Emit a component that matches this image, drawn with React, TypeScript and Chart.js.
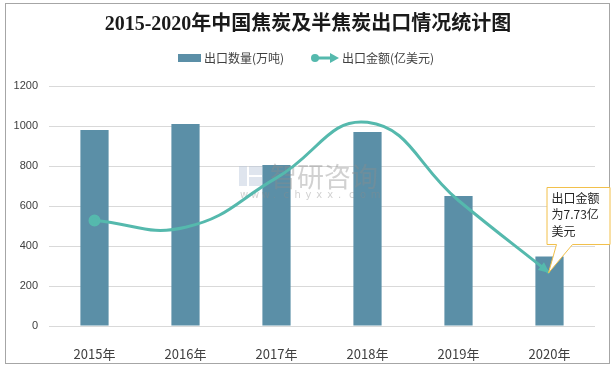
import React, { useEffect, useRef } from "react";
import { Chart, registerables } from "chart.js";

Chart.register(...registerables);

const TITLE = "2015-2020年中国焦炭及半焦炭出口情况统计图";
const YEARS = ["2015年", "2016年", "2017年", "2018年", "2019年", "2020年"];
const VOLUME = [980, 1010, 805, 970, 650, 347];
const VALUE = [15.4, 14.4, 21.6, 29.7, 18.3, 7.73];
const Y_TICKS = [0, 200, 400, 600, 800, 1000, 1200];
const VOLUME_LABEL = "出口数量(万吨)";
const VALUE_LABEL = "出口金额(亿美元)";
const CALLOUT_LINES = ["出口金额", "为7.73亿", "美元"];

const BAR_COLOR = "#5b8fa7";
const LINE_COLOR = "#55b9ad";
const TEXT_COLOR = "#404040";
const CJK = "'Noto Sans CJK SC', 'Noto Sans', sans-serif";

function drawWatermark(ctx: any) {
  ctx.save();
  ctx.globalAlpha = 0.45;
  ctx.fillStyle = "#b7c6d9";
  ctx.fillRect(239, 166, 8, 20);
  ctx.fillRect(249, 166, 13, 9);
  ctx.fillRect(249, 177, 13, 9);
  ctx.globalAlpha = 0.4;
  ctx.fillStyle = "#8c8c8c";
  ctx.font = "27px " + CJK;
  ctx.textAlign = "left";
  ctx.textBaseline = "middle";
  ctx.fillText("智研咨询", 270, 177);
  ctx.font = "10px 'DejaVu Sans', sans-serif";
  const s = "www.chyxx.com";
  for (let i = 0; i < s.length; i++) ctx.fillText(s[i], 240 + i * 10.9, 195);
  ctx.restore();
}

const decorPlugin = {
  id: "decor",
  beforeDraw(chart: any) {
    const ctx = chart.ctx;
    ctx.save();
    ctx.fillStyle = "#ffffff";
    ctx.fillRect(0, 0, chart.width, chart.height);
    ctx.strokeStyle = "#a6a6a6";
    ctx.lineWidth = 1;
    ctx.strokeRect(5.5, 3.5, 604, 360);
    // title
    ctx.fillStyle = "#1a1a1a";
    ctx.font = "bold 20px 'Liberation Serif', 'Noto Sans CJK SC', serif";
    ctx.textAlign = "center";
    ctx.textBaseline = "middle";
    ctx.fillText(TITLE, 308, 25);
    // legend
    ctx.font = "12px " + CJK;
    ctx.textAlign = "left";
    ctx.fillStyle = BAR_COLOR;
    ctx.fillRect(178, 54, 23, 8);
    ctx.fillStyle = TEXT_COLOR;
    ctx.fillText(VOLUME_LABEL, 204, 58);
    ctx.strokeStyle = LINE_COLOR;
    ctx.fillStyle = LINE_COLOR;
    ctx.lineWidth = 3;
    ctx.beginPath();
    ctx.moveTo(315, 58);
    ctx.lineTo(332, 58);
    ctx.stroke();
    ctx.beginPath();
    ctx.arc(315, 58, 4, 0, Math.PI * 2);
    ctx.fill();
    ctx.beginPath();
    ctx.moveTo(339, 58);
    ctx.lineTo(330, 53);
    ctx.lineTo(330, 63);
    ctx.closePath();
    ctx.fill();
    ctx.fillStyle = TEXT_COLOR;
    ctx.fillText(VALUE_LABEL, 342, 58);
    ctx.restore();
  },
  beforeDatasetDraw(chart: any, args: any) {
    if (args.index === 1) drawWatermark(chart.ctx);
  },
  afterDatasetsDraw(chart: any) {
    const ctx = chart.ctx;
    const meta = chart.getDatasetMeta(1);
    const pts = meta.data;
    const last = pts[pts.length - 1];
    const dx = last.x - (last.cp1x ?? pts[pts.length - 2].x);
    const dy = last.y - (last.cp1y ?? pts[pts.length - 2].y);
    const ang = Math.atan2(dy, dx);
    const L = 11, W = 5;
    ctx.save();
    ctx.fillStyle = LINE_COLOR;
    ctx.beginPath();
    ctx.moveTo(last.x, last.y);
    ctx.lineTo(last.x - L * Math.cos(ang) + W * Math.sin(ang), last.y - L * Math.sin(ang) - W * Math.cos(ang));
    ctx.lineTo(last.x - L * Math.cos(ang) - W * Math.sin(ang), last.y - L * Math.sin(ang) + W * Math.cos(ang));
    ctx.closePath();
    ctx.fill();
    // callout
    const tx = last.x - 1, ty = last.y;
    const bx = tx - 2, by = ty - 86, bw = 63, bh = 57;
    ctx.strokeStyle = "#f2c04a";
    ctx.fillStyle = "#ffffff";
    ctx.lineWidth = 1;
    ctx.beginPath();
    ctx.moveTo(bx + 0.5, by + 0.5);
    ctx.lineTo(bx + bw + 0.5, by + 0.5);
    ctx.lineTo(bx + bw + 0.5, by + bh + 0.5);
    ctx.lineTo(bx + 26, by + bh + 0.5);
    ctx.lineTo(tx, ty);
    ctx.lineTo(bx + 10, by + bh + 0.5);
    ctx.lineTo(bx + 0.5, by + bh + 0.5);
    ctx.closePath();
    ctx.fill();
    ctx.stroke();
    ctx.fillStyle = "#262626";
    ctx.font = "12px " + CJK;
    ctx.textAlign = "left";
    ctx.textBaseline = "middle";
    CALLOUT_LINES.forEach((s, i) => ctx.fillText(s, bx + 5, by + 11 + i * 16.5));
    ctx.restore();
  },
};

export default function App() {
  const ref = useRef<HTMLCanvasElement>(null);
  useEffect(() => {
    const chart = new Chart(ref.current as HTMLCanvasElement, {
      type: "bar",
      data: {
        labels: YEARS,
        datasets: [
          {
            type: "bar",
            label: VOLUME_LABEL,
            data: VOLUME,
            backgroundColor: BAR_COLOR,
            categoryPercentage: 1,
            barPercentage: 0.31,
            yAxisID: "y",
            order: 2,
          },
          {
            type: "line",
            label: VALUE_LABEL,
            data: VALUE,
            borderColor: LINE_COLOR,
            backgroundColor: LINE_COLOR,
            borderWidth: 3,
            tension: 0.45,
            pointRadius: [4.5, 0, 0, 0, 0, 0],
            pointHoverRadius: 0,
            yAxisID: "y1",
            order: 1,
          } as any,
        ],
      },
      options: {
        animation: false,
        responsive: false,
        devicePixelRatio: 1,
        layout: { padding: { top: 86, right: 21, left: 0, bottom: 0 } },
        plugins: { legend: { display: false }, title: { display: false }, tooltip: { enabled: false } },
        scales: {
          x: {
            grid: { display: false },
            border: { display: false },
            ticks: { color: TEXT_COLOR, font: { size: 13, family: CJK }, padding: 12 },
            afterFit: (s: any) => { s.height = 42; },
          },
          y: {
            min: 0,
            max: 1200,
            afterBuildTicks: (s: any) => { s.ticks = Y_TICKS.map((v) => ({ value: v })); },
            grid: { color: "#d9d9d9", drawTicks: false, lineWidth: 1 },
            border: { display: false },
            ticks: {
              color: TEXT_COLOR,
              font: { size: 11, family: "'Liberation Sans', Arial, sans-serif" },
              padding: 11,
              callback: (v: any) => String(v),
            },
            afterFit: (s: any) => { s.width = 49; },
          },
          y1: { display: false, min: 0, max: 35 },
        },
      },
      plugins: [decorPlugin],
    });
    return () => chart.destroy();
  }, []);
  return (
    <div style={{ position: "absolute", left: 0, top: 0, width: 616, height: 368 }}>
      <canvas ref={ref} width={616} height={368} style={{ width: 616, height: 368 }} />
    </div>
  );
}
